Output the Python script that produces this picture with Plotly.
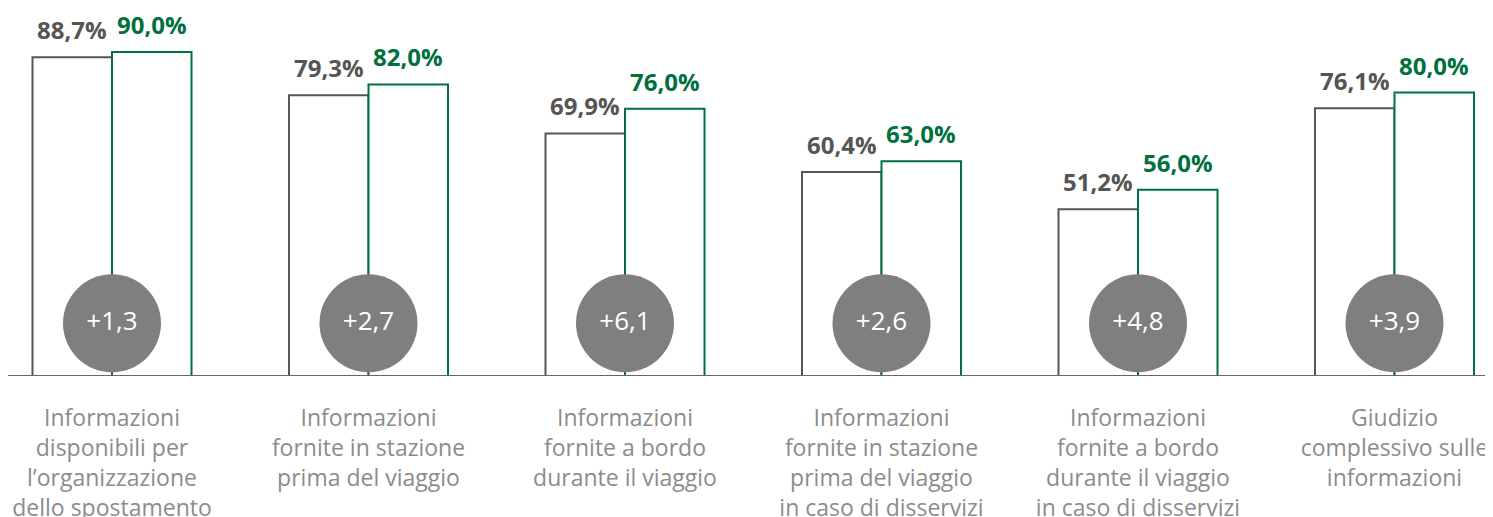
import plotly.graph_objects as go

categories = [
    "Informazioni<br>disponibili per<br>l’organizzazione<br>dello spostamento",
    "Informazioni<br>fornite in stazione<br>prima del viaggio",
    "Informazioni<br>fornite a bordo<br>durante il viaggio",
    "Informazioni<br>fornite in stazione<br>prima del viaggio<br>in caso di disservizi",
    "Informazioni<br>fornite a bordo<br>durante il viaggio<br>in caso di disservizi",
    "Giudizio<br>complessivo sulle<br>informazioni",
]
previous = [88.7, 79.3, 69.9, 60.4, 51.2, 76.1]
current = [90.0, 82.0, 76.0, 63.0, 56.0, 80.0]

GREY = "#555555"
GREEN = "#00703c"
CIRCLE = "#7f7f7f"
LABEL = "#8c8c8c"
FONT = "Open Sans"

x = list(range(len(categories)))
deltas = [c - p for p, c in zip(previous, current)]

def fmt(v, plus=False):
    s = f"{v:.1f}".replace(".", ",")
    return ("+" + s) if plus and v >= 0 else s

fig = go.Figure()
fig.add_trace(go.Bar(
    x=x, y=previous, name="prev",
    marker=dict(color="white", line=dict(color=GREY, width=2)),
    hoverinfo="skip",
))
fig.add_trace(go.Bar(
    x=x, y=current, name="curr",
    marker=dict(color="white", line=dict(color=GREEN, width=2)),
    hoverinfo="skip",
))

CIRCLE_Y = 23.0
fig.add_trace(go.Scatter(
    x=x, y=[CIRCLE_Y] * len(x), mode="markers+text",
    marker=dict(size=98, color=CIRCLE, line=dict(width=0)),
    text=[fmt(d, True) for d in deltas],
    textposition="middle center",
    textfont=dict(family=FONT, size=26, color="white"),
    hoverinfo="skip", cliponaxis=False,
))

BARGAP = 0.38
half = (1 - BARGAP) / 4
annotations = []
for i, (p, c) in enumerate(zip(previous, current)):
    annotations.append(dict(x=i - half, y=p, xref="x", yref="y", text=f"<b>{fmt(p)}%</b>",
                            showarrow=False, yanchor="bottom", yshift=9,
                            font=dict(family=FONT, size=24, color=GREY)))
    annotations.append(dict(x=i + half, y=c, xref="x", yref="y", text=f"<b>{fmt(c)}%</b>",
                            showarrow=False, yanchor="bottom", yshift=9,
                            font=dict(family=FONT, size=24, color=GREEN)))

W, H = 1493, 517
base_px = 368          # baseline position inside the figure
ppu = 4.05
y0 = 10
y1 = y0 + base_px / ppu
cat_px = 256.5
first_center = 104
x0 = -first_center / cat_px
x1 = (W - first_center) / cat_px

fig.update_layout(
    width=W, height=H,
    margin=dict(l=0, r=0, t=0, b=H - base_px),
    paper_bgcolor="white", plot_bgcolor="white",
    barmode="group", bargap=BARGAP, bargroupgap=0,
    showlegend=False,
    annotations=annotations,
    xaxis=dict(range=[x0, x1], tickvals=x, ticktext=categories, showgrid=False,
               zeroline=False, showline=False, ticks="",
               tickfont=dict(family=FONT, size=23, color=LABEL),
               ticklabelstandoff=26),
    yaxis=dict(range=[y0, y1], visible=False, showgrid=False, zeroline=False),
    shapes=[dict(type="line", xref="paper", yref="y", x0=0, x1=1, y0=y0, y1=y0,
                 line=dict(color="#666666", width=2), layer="above")],
)

fig.write_html("out.html")
